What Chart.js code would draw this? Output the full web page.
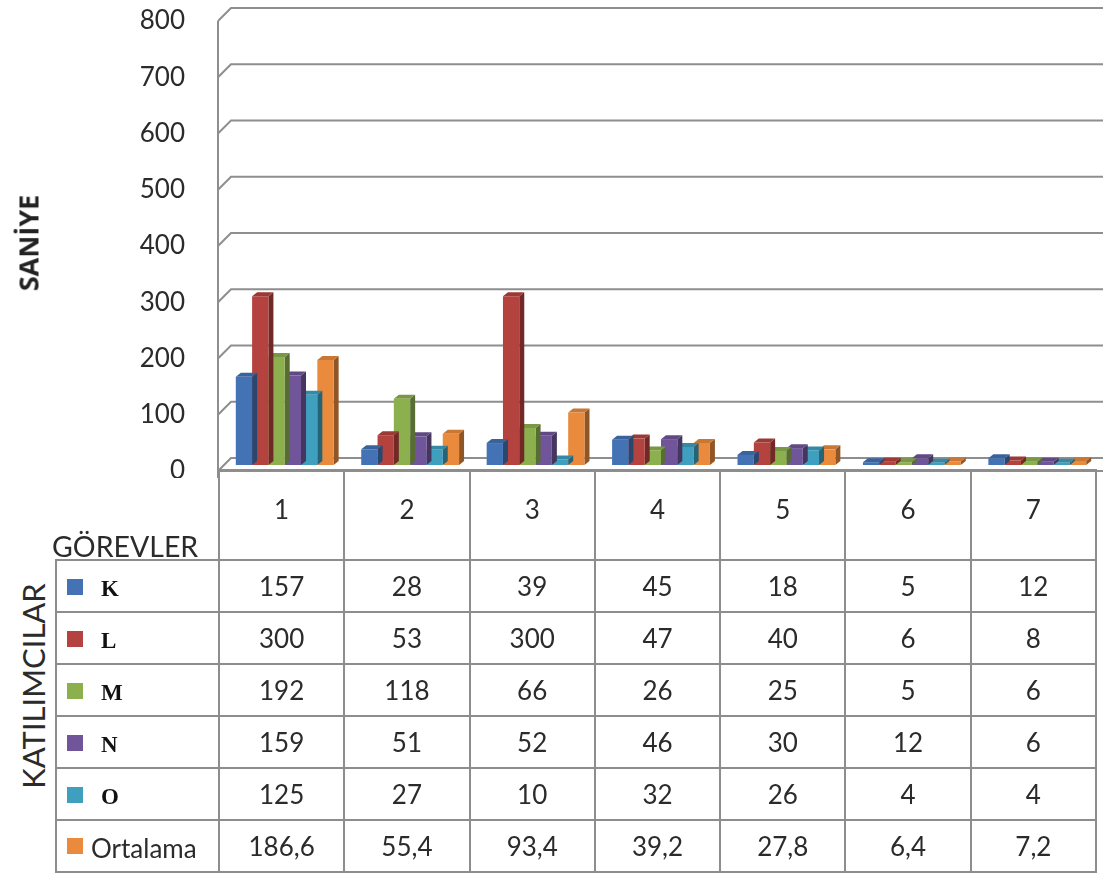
<!DOCTYPE html>
<html>
<head>
<meta charset="utf-8">
<title>Görev süreleri</title>
<script src="https://cdn.jsdelivr.net/npm/chart.js@4.4.0/dist/chart.umd.min.js"></script>
<style>
  html, body { margin: 0; padding: 0; background: #fff; width: 1103px; height: 875px; overflow: hidden; }
  body { position: relative; font-family: Lato, "Open Sans", sans-serif; color: #2b2b2b; }
  #wrap { position: absolute; left: 0; top: 0; width: 1103px; height: 478px; }
  #yTitle { position: absolute; left: 28px; top: 243px; transform: translate(-50%, -50%) rotate(-90deg);
            font: bold 27px "Open Sans", sans-serif; white-space: nowrap; color: #222; }
  #rowTitle { position: absolute; left: 33px; top: 686px; transform: translate(-50%, -50%) rotate(-90deg);
              font: 31px Lato, sans-serif; white-space: nowrap; color: #2b2b2b; }
  #colTitle { position: absolute; left: 52px; top: 530px; font: 28.5px Lato, sans-serif; line-height: 32px; white-space: nowrap; color: #2b2b2b; }
  #dataTable { position: absolute; left: 55px; top: 469px; border-collapse: collapse; table-layout: fixed; width: 1042px; }
  #dataTable td { border: 2px solid #8d8d8d; padding: 0; text-align: center; font: 26px Lato, sans-serif; color: #2b2b2b; }
  #dataTable tr.head td { height: 90px; vertical-align: top; padding-top: 22px; box-sizing: border-box; }
  #dataTable tr.head td.corner { border-top: none; border-left: none; }
  #dataTable tr.row td { height: 50px; }
  #dataTable td.key { text-align: left; white-space: nowrap; }
  .sw { display: inline-block; width: 16px; height: 16px; margin-left: 10px; vertical-align: middle; position: relative; top: -2px; }
  .serName { display: inline-block; vertical-align: middle; margin-left: 18px; font: bold 23px "Liberation Serif", "Times New Roman", serif; color: #111; }
  .serName.sans { margin-left: 8px; font: 26px Lato, sans-serif; color: #2b2b2b; }
</style>
</head>
<body>
<div id="wrap"><canvas id="chart"></canvas></div>
<div id="yTitle">SANİYE</div>
<div id="rowTitle">KATILIMCILAR</div>
<table id="dataTable"></table>
<div id="colTitle">GÖREVLER</div>
<script>
// Görevler (tasks) and the time each participant spent on them, in seconds
const categories = ['1', '2', '3', '4', '5', '6', '7'];
const seriesNames = ['K', 'L', 'M', 'N', 'O', 'Ortalama'];
const valuesK = [157, 28, 39, 45, 18, 5, 12];
const valuesL = [300, 53, 300, 47, 40, 6, 8];
const valuesM = [192, 118, 66, 26, 25, 5, 6];
const valuesN = [159, 51, 52, 46, 30, 12, 6];
const valuesO = [125, 27, 10, 32, 26, 4, 4];
const valuesOrtalama = [186.6, 55.4, 93.4, 39.2, 27.8, 6.4, 7.2];
const yTickMin = 0, yTickMax = 800, yTickStep = 100;

const seriesValues = [valuesK, valuesL, valuesM, valuesN, valuesO, valuesOrtalama];
const seriesColors = ['#4373B5', '#B4423E', '#8DB04F', '#71559A', '#3E9FBF', '#E98A3C'];

function shade(hex, f) {
  const n = parseInt(hex.slice(1), 16);
  const r = Math.round(((n >> 16) & 255) * f), g = Math.round(((n >> 8) & 255) * f), b = Math.round((n & 255) * f);
  return 'rgb(' + Math.min(r, 255) + ',' + Math.min(g, 255) + ',' + Math.min(b, 255) + ')';
}

// depth of the pseudo-3D box and of each column
const WALL_DX = 13, FRONT_DY = 6, BACK_DY = -7;
const BAR_DX = 5, BAR_DY = 4;

const box3d = {
  id: 'box3d',
  beforeDatasetsDraw(chart) {
    const { ctx, chartArea, scales: { y } } = chart;
    const fx = chartArea.left - 4, bx = fx + WALL_DX;
    ctx.save();
    ctx.strokeStyle = '#8e8e8e';
    ctx.lineWidth = 2;
    y.ticks.forEach(t => {
      const p = y.getPixelForValue(t.value);
      ctx.beginPath();
      ctx.moveTo(fx, p + FRONT_DY);
      ctx.lineTo(bx, p + BACK_DY);
      ctx.lineTo(chart.width, p + BACK_DY);
      ctx.stroke();
    });
    const top = y.getPixelForValue(yTickMax) + FRONT_DY;
    const bottom = y.getPixelForValue(yTickMin) + FRONT_DY;
    ctx.beginPath();
    ctx.moveTo(fx, top);
    ctx.lineTo(fx, chart.height);
    ctx.stroke();
    ctx.beginPath();
    ctx.moveTo(fx, bottom);
    ctx.lineTo(chart.width, bottom);
    ctx.stroke();
    ctx.restore();
  },
  beforeDatasetDraw(chart, args) {
    const { ctx } = chart;
    const color = seriesColors[args.index];
    ctx.save();
    args.meta.data.forEach(bar => {
      const { x, y, base, width } = bar.getProps(['x', 'y', 'base', 'width'], true);
      const L = x - width / 2, R = x + width / 2;
      ctx.fillStyle = shade(color, 0.62);
      ctx.beginPath();
      ctx.moveTo(R, y); ctx.lineTo(R + BAR_DX, y - BAR_DY);
      ctx.lineTo(R + BAR_DX, base - BAR_DY); ctx.lineTo(R, base);
      ctx.closePath(); ctx.fill();
      ctx.fillStyle = shade(color, 0.86);
      ctx.beginPath();
      ctx.moveTo(L, y); ctx.lineTo(L + BAR_DX, y - BAR_DY);
      ctx.lineTo(R + BAR_DX, y - BAR_DY); ctx.lineTo(R, y);
      ctx.closePath(); ctx.fill();
    });
    ctx.restore();
  }
};

new Chart(document.getElementById('chart'), {
  type: 'bar',
  data: {
    labels: categories,
    datasets: seriesNames.map((name, i) => ({
      label: name,
      data: seriesValues[i],
      backgroundColor: seriesColors[i],
      borderWidth: 0,
      categoryPercentage: 0.78,
      barPercentage: 1.0
    }))
  },
  options: {
    responsive: true,
    maintainAspectRatio: false,
    animation: false,
    events: [],
    layout: { padding: { top: 15, right: 3, bottom: 13, left: 0 } },
    plugins: { legend: { display: false }, tooltip: { enabled: false }, title: { display: false } },
    scales: {
      x: { display: false },
      y: {
        min: yTickMin, max: yTickMax,
        afterFit(scale) {
          scale.width = 222;
          scale.paddingTop = 0;
          scale.paddingBottom = 0;
        },
        grid: { display: false, drawTicks: false },
        border: { display: false },
        ticks: {
          stepSize: yTickStep, padding: 37, labelOffset: FRONT_DY,
          color: '#2b2b2b', font: { family: 'Lato, sans-serif', size: 26 }
        }
      }
    }
  },
  plugins: [box3d]
});

// data table beneath the plot
const fmt = v => String(v).replace('.', ',');
const table = document.getElementById('dataTable');
let html = '<colgroup><col style="width:163px">' + categories.map(() => '<col>').join('') + '</colgroup>';
html += '<tr class="head"><td class="corner"></td>' + categories.map(c => '<td>' + c + '</td>').join('') + '</tr>';
seriesNames.forEach((name, i) => {
  const cls = name.length > 1 ? 'serName sans' : 'serName';
  html += '<tr class="row"><td class="key"><span class="sw" style="background:' + seriesColors[i] + '"></span>' +
          '<span class="' + cls + '">' + name + '</span></td>' +
          seriesValues[i].map(v => '<td>' + fmt(v) + '</td>').join('') + '</tr>';
});
table.innerHTML = html;
</script>
</body>
</html>
